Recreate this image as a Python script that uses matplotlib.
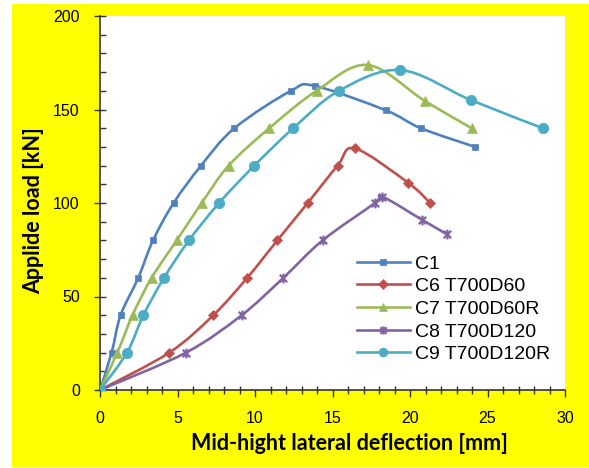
import numpy as np
import matplotlib
matplotlib.use('Agg')
import matplotlib.pyplot as plt
from matplotlib.path import Path
from matplotlib.patches import PathPatch, Rectangle
from matplotlib.lines import Line2D

# values
c1_x = [0, 0.75, 1.33, 2.47, 3.42, 4.75, 6.52, 8.67, 12.32, 13.87, 18.43, 20.7, 24.2]
c1_y = [0, 20, 40, 60, 80, 100, 120, 140, 160, 162.6, 149.6, 140, 130]

c6_x = [0, 4.47, 7.31, 9.5, 11.44, 13.4, 15.33, 16.45, 19.9, 21.3]
c6_y = [0, 20, 40, 60, 80, 100, 120, 129.2, 110.7, 100]

c7_x = [0, 1.12, 2.1, 3.33, 4.95, 6.56, 8.3, 10.92, 13.97, 17.26, 20.97, 23.98]
c7_y = [0, 20, 40, 60, 80, 100, 120, 140, 160, 173.8, 154.5, 140]

c8_x = [0, 5.55, 9.14, 11.83, 14.36, 17.74, 18.2, 20.8, 22.4]
c8_y = [0, 20, 40, 60, 80, 100, 103.4, 90.9, 83.2]

c9_x = [0, 1.74, 2.8, 4.13, 5.74, 7.68, 9.96, 12.47, 15.42, 19.38, 23.94, 28.56]
c9_y = [0, 20, 40, 60, 80, 100, 120, 140, 160, 171.1, 155, 140]

labels = ['C1', 'C6 T700D60', 'C7 T700D60R', 'C8 T700D120', 'C9 T700D120R']

# excel style star marker (x plus vertical bar)
star = Path([(-1, -1), (1, 1), (-1, 1), (1, -1), (0, -1.3), (0, 1.3)],
            [Path.MOVETO, Path.LINETO, Path.MOVETO, Path.LINETO, Path.MOVETO, Path.LINETO])

series = [
    (c1_x, c1_y, '#4F81BD', 's', 5),
    (c6_x, c6_y, '#C0504D', 'D', 5.5),
    (c7_x, c7_y, '#9BBB59', '^', 6.5),
    (c8_x, c8_y, '#8064A2', star, 7),
    (c9_x, c9_y, '#4BACC6', 'o', 7.5),
]


def smooth_path(x, y):
    '''
        bezier curve through the points, similar to excel's smoothed line
    '''
    pts = np.column_stack([x, y]).astype(float)
    n = len(pts)
    verts = [pts[0]]
    codes = [Path.MOVETO]
    for i in range(n - 1):
        p0 = pts[i - 1] if i > 0 else pts[i]
        p1 = pts[i]
        p2 = pts[i + 1]
        p3 = pts[i + 2] if i + 2 < n else pts[i + 1]
        verts += [p1 + (p2 - p0) / 6, p2 - (p3 - p1) / 6, p2]
        codes += [Path.CURVE4] * 3
    return Path(verts, codes)


fig = plt.figure(figsize=(5.89, 4.68), dpi=100, facecolor='white')
fig.patches.append(Rectangle((12 / 589, 1 / 468), 577 / 589, 463 / 468,
                             transform=fig.transFigure, facecolor='#FFFF00',
                             edgecolor='none', zorder=-10))

ax = fig.add_axes([100 / 589, 1 - 390 / 468, 465 / 589, 374 / 468])
ax.set_facecolor('white')

handles = []
for (x, y, color, marker, ms) in series:
    ax.add_patch(PathPatch(smooth_path(x, y), fill=False, edgecolor=color,
                           lw=1.9, capstyle='round', joinstyle='round', zorder=2))
    mew = 1.6 if marker is star else 0.5
    ax.plot(x, y, ls='none', marker=marker, ms=ms, color=color,
            mec=color, mew=mew, zorder=3)
    handles.append(Line2D([], [], color=color, lw=1.9, marker=marker,
                          ms=ms * 0.85, mec=color, mew=mew))

ax.set_xlim(0, 30)
ax.set_ylim(0, 200)
ax.set_xticks(np.arange(0, 31, 5))
ax.set_xticks(np.arange(0, 31, 1), minor=True)
ax.set_yticks(np.arange(0, 201, 50))
ax.set_yticks(np.arange(0, 201, 10), minor=True)

for s in ['top', 'right']:
    ax.spines[s].set_visible(False)
for s in ['left', 'bottom']:
    ax.spines[s].set_color('#333333')
    ax.spines[s].set_linewidth(1.2)

ax.tick_params(axis='y', which='major', direction='inout', length=9, width=1, pad=10,
               labelsize=11.5, color='#333333')
ax.tick_params(axis='y', which='minor', direction='in', length=4, width=1, color='#333333')
ax.tick_params(axis='x', which='major', direction='out', length=5, width=1, pad=10,
               labelsize=11.5, color='#333333')
ax.tick_params(axis='x', which='minor', direction='inout', length=6, width=1, color='#333333')
for lab in ax.get_xticklabels() + ax.get_yticklabels():
    lab.set_fontfamily('Liberation Sans')

fig.text(349.5 / 589, 1 - 444 / 468, 'Mid-hight lateral deflection [mm]',
         ha='center', va='center', fontsize=15.5, fontweight='bold', family='Lato')
fig.text(34 / 589, 1 - 210.5 / 468, 'Applide load [kN]', rotation=90,
         ha='center', va='center', fontsize=15.5, fontweight='bold', family='Lato')

ax.legend(handles, labels, loc='upper left', bbox_to_anchor=(0.553, 0.361),
          frameon=False, borderpad=0, borderaxespad=0, handlelength=2.7,
          handletextpad=0.28, labelspacing=0.26,
          prop={'family': 'Liberation Sans', 'size': 14})

fig.savefig('out.png', dpi=100, facecolor='white')
